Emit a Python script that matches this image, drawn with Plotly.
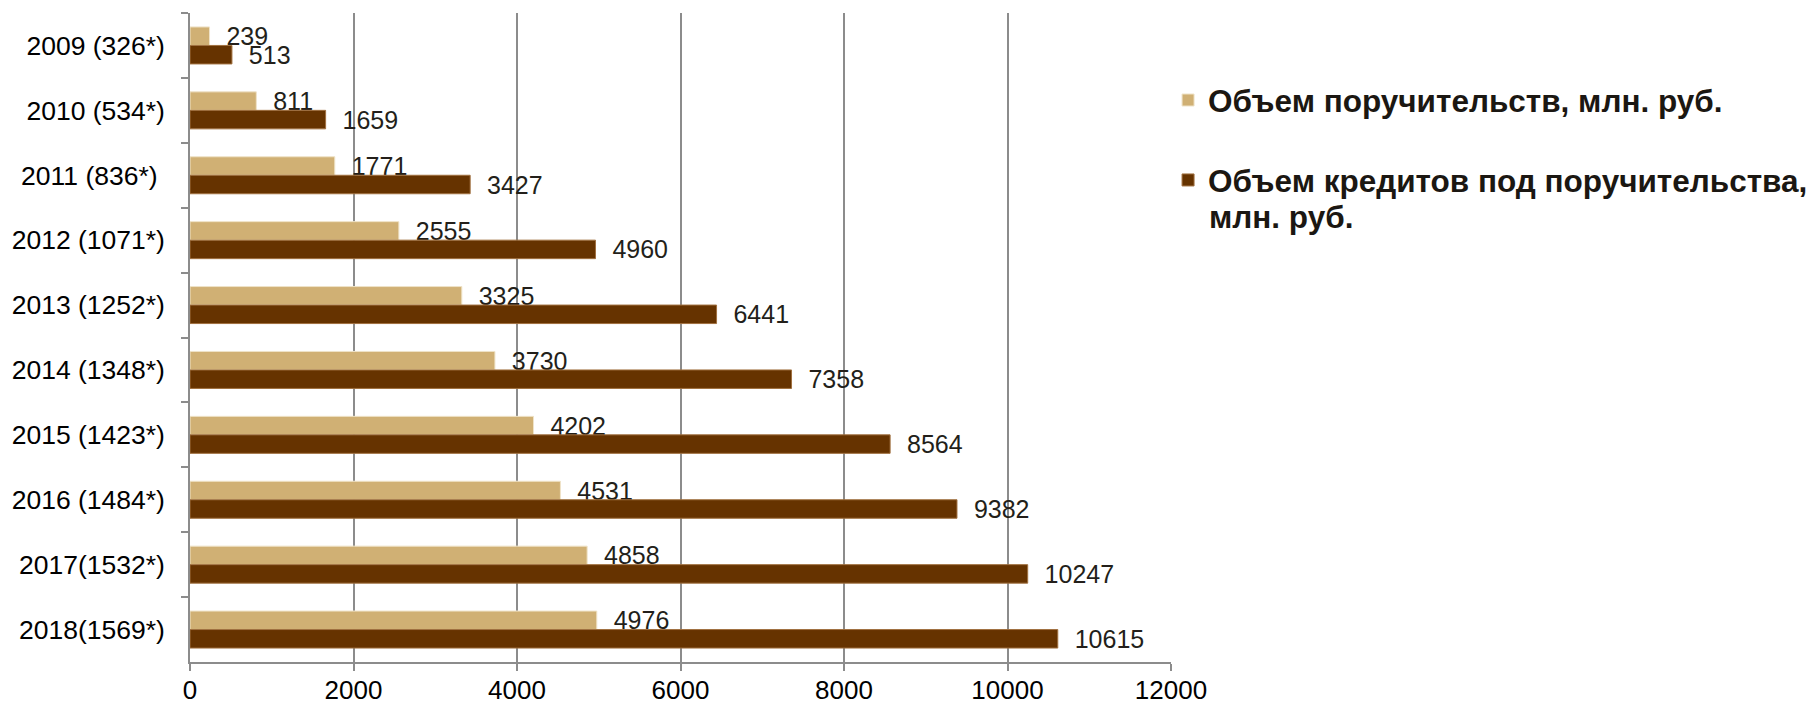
import plotly.graph_objects as go

categories = ["2009 (326*)", "2010 (534*)", "2011 (836*)\u00a0", "2012 (1071*)", "2013 (1252*)",
              "2014 (1348*)", "2015 (1423*)", "2016 (1484*)", "2017(1532*)", "2018(1569*)"]
guarantees = [239, 811, 1771, 2555, 3325, 3730, 4202, 4531, 4858, 4976]
loans = [513, 1659, 3427, 4960, 6441, 7358, 8564, 9382, 10247, 10615]
x_ticks = [0, 2000, 4000, 6000, 8000, 10000, 12000]

name_g = "Объем поручительств, млн. руб."
name_l = "Объем кредитов под поручительства,"
name_l_cont = "млн. руб."

FONT = "Liberation Sans, Arial, sans-serif"
LEG_FONT = dict(family=FONT, size=31.5, color="#1B1712", weight="bold")

fig = go.Figure()
fig.add_trace(go.Bar(
    y=categories, x=guarantees, orientation="h", name=name_g,
    marker=dict(color="#D0B074", line=dict(color="#EFE3C8", width=1)),
    texttemplate="  %{x:.0f}", textposition="outside", constraintext="none",
    cliponaxis=False, textfont=dict(size=25, color="#231F1A", family=FONT),
    legendgroup="g1",
))
fig.add_trace(go.Bar(
    y=categories, x=loans, orientation="h", name=name_l,
    marker=dict(color="#663300", line=dict(color="#A0703F", width=1)),
    texttemplate="  %{x:.0f}", textposition="outside", constraintext="none",
    cliponaxis=False, textfont=dict(size=25, color="#231F1A", family=FONT),
    legendgroup="g2",
))

# continuation line of the second legend entry
fig.add_annotation(
    text=name_l_cont, xref="paper", yref="paper",
    x=1.0367, y=0.6857, xanchor="left", yanchor="middle",
    showarrow=False, font=LEG_FONT,
)

# page body has an 8px default margin; figure is sized to compensate
fig.update_layout(
    width=1812, height=697,
    margin=dict(l=182, r=649, t=5, b=43),
    paper_bgcolor="white", plot_bgcolor="white",
    barmode="group", bargap=0.43, bargroupgap=0,
    font=dict(family=FONT, size=25, color="black"),
    showlegend=True,
    legend=dict(
        x=0.997, xanchor="left", y=0.9075, yanchor="top",
        font=LEG_FONT, tracegroupgap=36, bgcolor="rgba(0,0,0,0)",
    ),
    xaxis=dict(
        range=[0, 12000], tickvals=x_ticks, ticktext=[str(v) for v in x_ticks],
        showgrid=True, gridcolor="#8C8C8C", gridwidth=1.5,
        showline=True, linecolor="#8C8C8C", linewidth=1.5,
        ticks="outside", ticklen=7, tickcolor="#8C8C8C", tickwidth=1.5,
        ticklabelstandoff=-3,
        tickfont=dict(size=26, color="black"), zeroline=False, automargin=False,
    ),
    yaxis=dict(
        type="category", autorange="reversed", automargin=False,
        showgrid=False, showline=True, linecolor="#8C8C8C", linewidth=1.5,
        ticks="outside", ticklen=7, tickcolor="#8C8C8C", tickwidth=1.5,
        tickson="boundaries", ticklabelstandoff=18,
        tickfont=dict(size=26.5, color="black"),
    ),
)

fig.write_html("out.html")
